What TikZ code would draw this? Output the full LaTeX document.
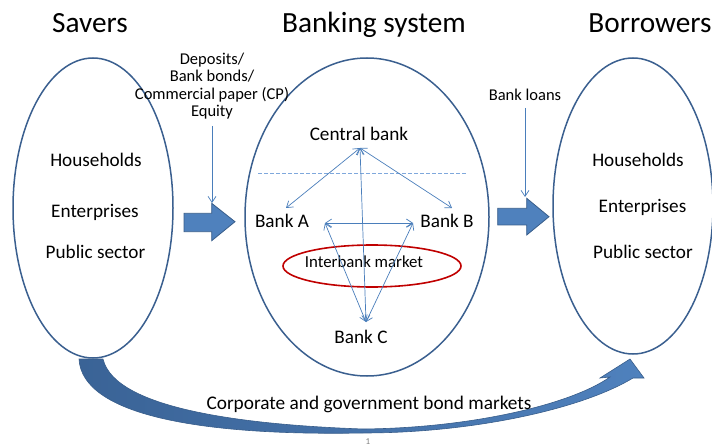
\documentclass[tikz,border=0pt]{standalone}
\usepackage{fontspec}
\setmainfont{Carlito}
\usetikzlibrary{arrows.meta,shapes.geometric}
\definecolor{ellblue}{HTML}{3A5F8F}
\definecolor{thinblue}{HTML}{4A7EBB}
\definecolor{dashblue}{HTML}{7FA8DC}
\definecolor{blockfill}{HTML}{4F81BD}
\definecolor{blockedge}{HTML}{385D8A}
\definecolor{darkband}{HTML}{3A6396}
\definecolor{ibred}{HTML}{C00000}
\tikzset{
  bigell/.style={draw=ellblue, line width=1.5pt, ellipse, inner sep=0pt},
  titletext/.style={anchor=base, inner sep=0pt, font=\fontsize{29.3}{33}\selectfont},
  bodytext/.style={anchor=base, inner sep=0pt, font=\fontsize{19.2}{22}\selectfont},
  smalltext/.style={inner sep=0pt, font=\fontsize{16.5}{17.3}\selectfont, align=center},
  thinarrow/.style={draw=thinblue, line width=0.7pt, -{Straight Barb[length=6pt,width=8pt]}},
  biarrow/.style={draw=thinblue, line width=0.7pt, {Straight Barb[length=6pt,width=8pt]}-{Straight Barb[length=6pt,width=8pt]}},
  blockarrow/.style={fill=blockfill, draw=blockedge, line width=0.8pt, line join=miter}
}
\begin{document}
\begin{tikzpicture}[x=1pt,y=-1pt]
\useasboundingbox (0,0) rectangle (712,446);

% titles
\node[titletext] (tsav) at (90,33) {Savers};
\node[titletext] (tbank) at (374,33) {Banking system};
\node[titletext] (tbor) at (650,33) {Borrowers};

% big ellipses
\node[bigell, minimum width=160pt, minimum height=300pt] (savers) at (93,208) {};
\node[bigell, minimum width=244pt, minimum height=318pt] (banking) at (367,217) {};
\node[bigell, minimum width=160pt, minimum height=296pt] (borrowers) at (633,206) {};

% savers text
\node[bodytext] (sh) at (96,167) {Households};
\node[bodytext] (se) at (95,218) {Enterprises};
\node[bodytext] (sp) at (95.5,259) {Public sector};

% borrowers text
\node[bodytext] (bh) at (638,167) {Households};
\node[bodytext] (be) at (642.5,213) {Enterprises};
\node[bodytext] (bp) at (643,259) {Public sector};

% banking system content
\node[bodytext] (cb) at (359,141) {Central bank};
\node[bodytext] (ba) at (282,228) {Bank A};
\node[bodytext] (bb) at (447,228) {Bank B};
\node[bodytext] (bc) at (361,343) {Bank C};
\node[draw=ibred, line width=1.6pt, ellipse, minimum width=178pt, minimum height=42pt, inner sep=0pt] (ibm) at (372,266) {};
\node[anchor=base, inner sep=0pt, font=\fontsize{16.8}{18}\selectfont] (ibt) at (364,268) {Interbank market};

\coordinate (dl) at (258,173);
\coordinate (dr) at (467,173);
\draw[dashblue, line width=0.8pt, dash pattern=on 3.5pt off 2.5pt] (dl) -- (dr);

\coordinate (hub) at (360,148);
\coordinate (pA) at (286,208);
\coordinate (pB) at (452,208);
\coordinate (pL) at (325,223);
\coordinate (pR) at (413,223);
\coordinate (pC) at (366,322);
\draw[biarrow] (hub) -- (pA);
\draw[biarrow] (hub) -- (pB);
\draw[biarrow] (hub) -- (pC);
\draw[biarrow] (pL) -- (pR);
\draw[biarrow] (pL) -- (pC);
\draw[biarrow] (pR) -- (pC);

% deposits label and arrow
\node[smalltext, anchor=north] (dep) at (212,53) {Deposits/\\Bank bonds/\\Commercial paper (CP)\\Equity};
\coordinate (depstart) at (212,126);
\coordinate (depend) at (212,203);
\draw[thinarrow] (depstart) -- (depend);

\node[smalltext, anchor=base] (loans) at (525,101) {Bank loans};
\coordinate (loansstart) at (525,108);
\coordinate (loansend) at (525,197);
\draw[thinarrow] (loansstart) -- (loansend);

% block arrows
\draw[blockarrow] (184,213.3) -- (211.7,213.3) -- (211.7,203.3) -- (235,221.7) -- (211.7,240.7) -- (211.7,231.7) -- (184,231.7) -- cycle;
\draw[blockarrow] (497.7,208.3) -- (526.7,208.3) -- (526.7,198.3) -- (549,216.7) -- (526.7,235) -- (526.7,225) -- (497.7,225) -- cycle;

% curved bond-market arrow
\path[left color=darkband, right color=blockfill, draw=blockedge, line width=0.6pt, line join=miter]
  (79,359) .. controls (82,415) and (200,436) .. (363,433)
  .. controls (470,433) and (580,410) .. (633,378)
  -- (644,378) -- (630,359) -- (600,378) -- (610,377)
  .. controls (570,405) and (470,428) .. (363,429)
  .. controls (250,425) and (115,410) .. (103,359) -- cycle;

\node[anchor=base, inner sep=0pt, font=\fontsize{19.3}{22}\selectfont] (bond) at (369,409) {Corporate and government bond markets};

\node[inner sep=0pt, font=\fontsize{9}{10}\selectfont, text=gray] (pg) at (368,442) {1};
\end{tikzpicture}
\end{document}
